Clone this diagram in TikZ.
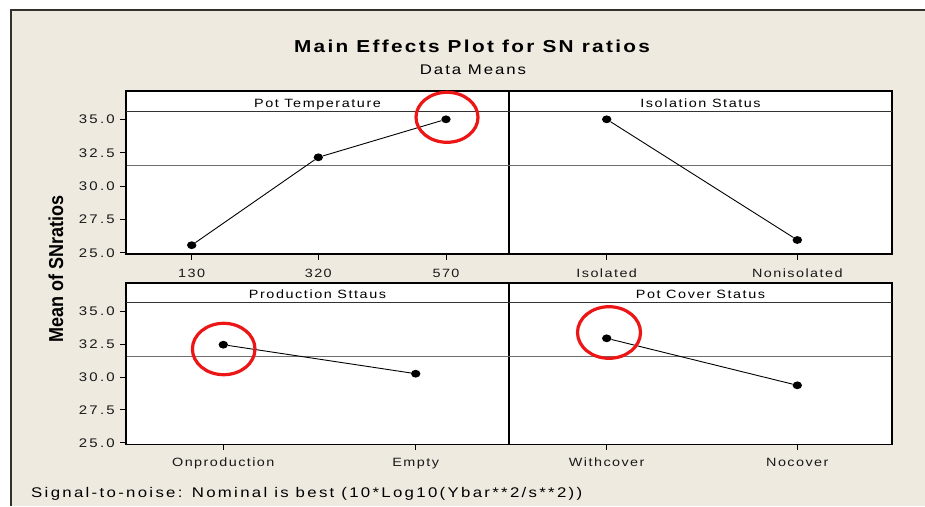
\documentclass[tikz,border=0pt]{standalone}
\usepackage{fontspec}
\usepackage{graphicx}
\setmainfont{Liberation Sans}
% Minitab-like lettering: slightly widened glyphs with open tracking
\newfontfamily\plotfont[FakeStretch=1.2,LetterSpace=12]{Liberation Sans}
\newfontfamily\tickfont[FakeStretch=1.2,LetterSpace=18]{Liberation Sans}
\newfontfamily\headfont[FakeStretch=1.2,LetterSpace=13]{Liberation Sans}
\newfontfamily\notefont[FakeStretch=1.2,LetterSpace=16.5]{Liberation Sans}
\newfontfamily\titlefont[FakeStretch=1.2,LetterSpace=13.5]{Liberation Sans}
\newfontfamily\subtitlefont[FakeStretch=1.2,LetterSpace=14]{Liberation Sans}
\usetikzlibrary{shapes.geometric}

\definecolor{paper}{RGB}{238,234,224}
\definecolor{frameline}{RGB}{50,50,45}
\definecolor{refline}{RGB}{110,110,110}
\definecolor{markred}{RGB}{236,22,22}

\tikzset{
  panel/.style={draw=black, line width=1.3pt, fill=white},
  headline/.style={draw=black!80, line width=0.9pt},
  meanline/.style={draw=refline, line width=0.8pt},
  tickmark/.style={draw=black, line width=1pt},
  ticklabel/.style={anchor=base east, inner sep=0pt, font=\tickfont\fontsize{12.5}{14}\selectfont, text=black!90},
  levellabel/.style={anchor=base, inner sep=0pt, font=\plotfont\fontsize{12}{14}\selectfont, text=black!90},
  facetlabel/.style={anchor=base, inner sep=0pt, font=\headfont\fontsize{12}{14}\selectfont},
  datapt/.style={ellipse, fill=black, inner sep=0pt, minimum width=9.4pt, minimum height=7.8pt},
  effect/.style={draw=black, line width=0.9pt},
  highlight/.style={ellipse, draw=markred, line width=3.2pt, inner sep=0pt}
}

\begin{document}
\begin{tikzpicture}[x=1pt,y=-1pt]
\useasboundingbox (0,0) rectangle (925,506);

% sheet and its frame
\fill[white] (0,0) rectangle (925,506);
\fill[paper] (10,9) rectangle (925,506);
\draw[frameline, line width=1.6pt] (10.8,506) -- (10.8,9.8) -- (925,9.8);

% titles
\node[anchor=base, inner sep=0pt, font=\titlefont\bfseries\fontsize{17.3}{19}\selectfont] (title) at (472,52.3) {Main Effects Plot for SN ratios};
\node[anchor=base, inner sep=0pt, font=\subtitlefont\fontsize{14}{16}\selectfont] (subtitle) at (473,74.3) {Data Means};

% y-axis title
\node[rotate=90, inner sep=0pt] (ylab) at (56,269) {\scalebox{1}[1.12]{\bfseries\fontsize{18}{20}\selectfont Mean of SNratios}};

% panels
\draw[panel] (126,91) rectangle (509,254);
\draw[panel] (509,91) rectangle (892,254);
\draw[panel] (126,283) rectangle (509,444.3);
\draw[panel] (509,283) rectangle (892,444.3);
\draw[headline] (126,111) -- (892,111);
\draw[headline] (126,302.3) -- (892,302.3);
\draw[meanline] (126.7,165) -- (891.3,165);
\draw[meanline] (126.7,356) -- (891.3,356);

% facet headers
\node[facetlabel] (h1) at (317.5,107.3) {Pot Temperature};
\node[facetlabel] (h2) at (700.5,107.3) {Isolation Status};
\node[facetlabel] (h3) at (317.5,298.5) {Production Sttaus};
\node[facetlabel] (h4) at (700.5,298.5) {Pot Cover Status};

% y axes
\foreach \v/\y in {35.0/119.3, 32.5/152.65, 30.0/186.0, 27.5/219.35, 25.0/252.7} {
  \draw[tickmark] (120,\y) -- (126,\y);
  \node[ticklabel] at (115,\y+4.5) {\v};
}
\foreach \v/\y in {35.0/311.3, 32.5/344.15, 30.0/377.0, 27.5/409.85, 25.0/442.7} {
  \draw[tickmark] (120,\y) -- (126,\y);
  \node[ticklabel] at (115,\y+4.5) {\v};
}

% x axes
\foreach \x/\t in {191.7/130, 318.3/320, 446/570, 606.7/Isolated, 797.3/Nonisolated} {
  \draw[tickmark] (\x,254) -- (\x,260);
  \node[levellabel] at (\x,277) {\t};
}
\foreach \x/\t in {223.3/Onproduction, 415.7/Empty, 606.7/Withcover, 797.3/Nocover} {
  \draw[tickmark] (\x,444.3) -- (\x,450.3);
  \node[levellabel] at (\x,466.5) {\t};
}

% level means
\node[datapt] (t130) at (191.7,245.2) {};
\node[datapt] (t320) at (318.3,157.3) {};
\node[datapt] (t570) at (446,119.3) {};
\node[datapt] (iso) at (606.7,119.3) {};
\node[datapt] (noniso) at (797.3,240) {};
\node[datapt] (onprod) at (223.3,344.7) {};
\node[datapt] (empty) at (415.7,373.7) {};
\node[datapt] (withc) at (606.7,338.3) {};
\node[datapt] (noc) at (797.3,385.3) {};

\draw[effect] (t130) -- (t320) -- (t570);
\draw[effect] (iso) -- (noniso);
\draw[effect] (onprod) -- (empty);
\draw[effect] (withc) -- (noc);

% chosen levels
\node[highlight, minimum width=62pt, minimum height=50pt] (c1) at (447,117.3) {};
\node[highlight, minimum width=62.6pt, minimum height=51.4pt] (c2) at (223.7,349) {};
\node[highlight, minimum width=63pt, minimum height=51.6pt] (c3) at (609,332.5) {};

% footnote
\node[anchor=base west, inner sep=0pt, font=\notefont\fontsize{14}{16}\selectfont] (note) at (31,497) {Signal-to-noise: Nominal is best (10*Log10(Ybar**2/s**2))};
\end{tikzpicture}
\end{document}
